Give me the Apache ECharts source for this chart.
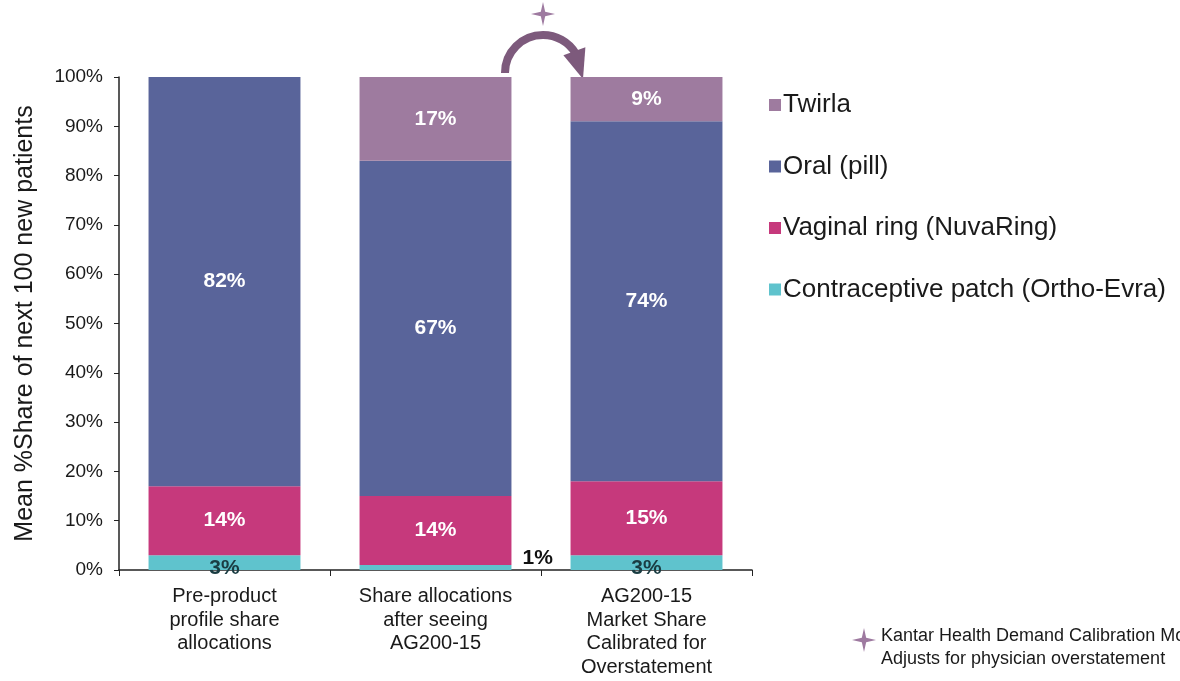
<!DOCTYPE html>
<html>
<head>
<meta charset="utf-8">
<script src="https://cdn.jsdelivr.net/npm/echarts@6/dist/echarts.min.js"></script>
<style>
html,body{margin:0;padding:0;background:#fff;}
#chart{width:1180px;height:681px;}
</style>
</head>
<body>
<div id="chart"></div>
<script>
var categories = [
  'Pre-product\nprofile share\nallocations',
  'Share allocations\nafter seeing\nAG200-15',
  'AG200-15\nMarket Share\nCalibrated for\nOverstatement'
];
var seriesNames = ['Contraceptive patch (Ortho-Evra)', 'Vaginal ring (NuvaRing)', 'Oral (pill)', 'Twirla'];
var patchValues = [3, 1, 3];
var ringValues = [14, 14, 15];
var oralValues = [83, 68, 73];
var twirlaValues = [0, 17, 9];
var patchLabels = ['3%', '1%', '3%'];
var ringLabels = ['14%', '14%', '15%'];
var oralLabels = ['82%', '67%', '74%'];
var twirlaLabels = ['', '17%', '9%'];
var yTickLabels = ['0%','10%','20%','30%','40%','50%','60%','70%','80%','90%','100%'];
var colors = ['#5fc3cd', '#c6397c', '#59649a', '#9e7b9f'];

var FONT = '"Liberation Sans", Arial, sans-serif';
var chart = echarts.init(document.getElementById('chart'));

function mkData(values, labels, special) {
  return values.map(function (v, i) {
    var d = { value: v, labelText: labels[i] };
    if (special && special[i]) d.label = special[i];
    return d;
  });
}
function fmt(p) { return p.data.labelText || ''; }

var whiteLabel = { show: true, position: 'inside', color: '#ffffff', fontWeight: 'bold', fontSize: 21, fontFamily: FONT, formatter: fmt };

var option = {
  animation: false,
  backgroundColor: '#ffffff',
  grid: { left: 119, right: 428, top: 77, bottom: 111 },
  legend: {
    orient: 'vertical',
    left: 764,
    top: 87,
    itemGap: 35.5,
    itemWidth: 12,
    itemHeight: 12,
    icon: 'rect',
    data: ['Twirla', 'Oral (pill)', 'Vaginal ring (NuvaRing)', 'Contraceptive patch (Ortho-Evra)'],
    textStyle: { fontSize: 26, lineHeight: 26, color: '#1a1a1a', fontFamily: FONT, padding: [0, 0, 0, -3] }
  },
  xAxis: {
    type: 'category',
    data: categories,
    axisLine: { lineStyle: { color: '#222', width: 1.5 } },
    axisTick: { show: true, alignWithLabel: false, length: 6, lineStyle: { color: '#222' } },
    axisLabel: { fontSize: 20, color: '#1a1a1a', fontFamily: FONT, lineHeight: 23.5, margin: 15, interval: 0 }
  },
  yAxis: {
    type: 'value',
    min: 0, max: 100, interval: 10,
    name: 'Mean %Share of next 100 new patients',
    nameLocation: 'middle',
    nameGap: 81,
    nameTextStyle: { fontSize: 25, color: '#1a1a1a', fontFamily: FONT },
    axisLine: { show: true, lineStyle: { color: '#222', width: 1.5 } },
    axisTick: { show: true, length: 5, inside: false, lineStyle: { color: '#222' } },
    splitLine: { show: false },
    axisLabel: {
      fontSize: 19, color: '#1a1a1a', fontFamily: FONT, margin: 16,
      formatter: function (v) { return yTickLabels[Math.round(v / 10)]; }
    }
  },
  series: [
    {
      name: seriesNames[0], type: 'bar', stack: 's', barWidth: '72%',
      itemStyle: { color: colors[0] },
      label: { show: true, position: 'inside', color: '#1a3c42', fontWeight: 'bold', fontSize: 21, fontFamily: FONT, offset: [0, 6], formatter: fmt },
      data: mkData(patchValues, patchLabels, [null, { position: 'right', color: '#111', offset: [6, -9] }, null])
    },
    {
      name: seriesNames[1], type: 'bar', stack: 's',
      itemStyle: { color: colors[1] },
      label: whiteLabel,
      data: mkData(ringValues, ringLabels)
    },
    {
      name: seriesNames[2], type: 'bar', stack: 's',
      itemStyle: { color: colors[2] },
      label: whiteLabel,
      data: mkData(oralValues, oralLabels)
    },
    {
      name: seriesNames[3], type: 'bar', stack: 's',
      itemStyle: { color: colors[3] },
      label: whiteLabel,
      data: mkData(twirlaValues, twirlaLabels)
    }
  ]
};
chart.setOption(option);

function star(cx, cy, r, color) {
  var w = r * 0.18;
  return {
    type: 'polygon',
    shape: { points: [[cx, cy - r], [cx + w, cy - w], [cx + r, cy], [cx + w, cy + w], [cx, cy + r], [cx - w, cy + w], [cx - r, cy], [cx - w, cy - w]] },
    style: { fill: color }
  };
}

// arrow between bar 2 and bar 3
var p1 = chart.convertToPixel({ gridIndex: 0 }, [1, 100]);
var p2 = chart.convertToPixel({ gridIndex: 0 }, [2, 100]);
var cx = (p1[0] + p2[0]) / 2 + 2;
var cy = p1[1] - 4;
var r = 38;
var a = -0.55;
var ax = cx + r * Math.cos(a), ay = cy + r * Math.sin(a);

chart.setOption({
  graphic: [
    {
      type: 'arc',
      shape: { cx: cx, cy: cy, r: r, startAngle: Math.PI, endAngle: Math.PI * 2 + a, clockwise: true },
      style: { stroke: '#7d5a7c', lineWidth: 8, fill: 'none' }
    },
    {
      type: 'polygon',
      shape: { points: [[ax - 12, ay + 2], [ax + 10, ay - 6], [cx + r + 2, cy + 6]] },
      style: { fill: '#7d5a7c' }
    },
    star(cx, cy - r - 21, 12, '#9e7aa0'),
    star(864, 640, 12, '#9e7aa0'),
    {
      type: 'text', left: 881, top: 627,
      style: { text: 'Kantar Health Demand Calibration Model', font: '18px ' + FONT, fill: '#1a1a1a' }
    },
    {
      type: 'text', left: 881, top: 650,
      style: { text: 'Adjusts for physician overstatement', font: '18px ' + FONT, fill: '#1a1a1a' }
    }
  ]
});
</script>
</body>
</html>
